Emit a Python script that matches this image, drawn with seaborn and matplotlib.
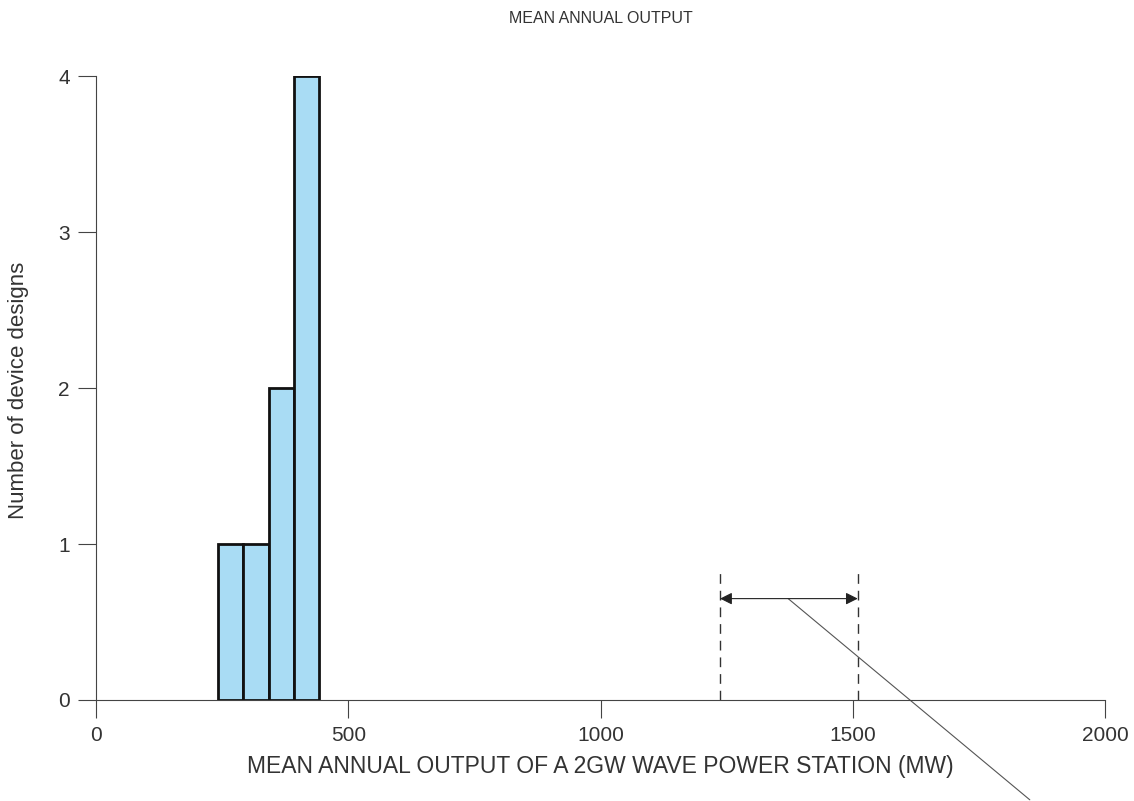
import numpy as np
import pandas as pd
import matplotlib
matplotlib.use("Agg")
import matplotlib.pyplot as plt
import seaborn as sns

# Histogram data
bin_edges = [242, 292, 342, 392, 442]
counts = [1, 1, 2, 4]

# Annotation: estimated range (dashed lines) and pointer line
range_low, range_high = 1237, 1510
range_top = 0.83
arrow_y = 0.65
pointer_start = (1372, 0.65)
pointer_end = (1851, -0.64)

x_ticks = [0, 500, 1000, 1500, 2000]
y_ticks = [0, 1, 2, 3, 4]

centers = [(a + b) / 2 for a, b in zip(bin_edges[:-1], bin_edges[1:])]
df = pd.DataFrame({"output": centers, "count": counts})

sns.set_style("white")
plt.rcParams["font.family"] = ["Liberation Sans", "DejaVu Sans"]

fig = plt.figure(figsize=(11.34, 8.01), dpi=100)
ax = fig.add_axes([0.0847, 0.1261, 0.8897, 0.7789])

sns.histplot(data=df, x="output", weights="count", bins=bin_edges,
             color="#a9dcf4", alpha=1, edgecolor="#111111", linewidth=2, ax=ax)

# dashed range lines
for xv in [range_low, range_high]:
    ax.plot([xv, xv], [0, range_top], color="#333333", lw=1, ls=(0, (7, 5)))
ax.annotate("", xy=(range_low, arrow_y), xytext=(range_high, arrow_y),
            arrowprops=dict(arrowstyle="<|-|>", color="#222222", lw=0.8,
                            mutation_scale=18, shrinkA=0, shrinkB=0))
ax.plot([pointer_start[0], pointer_end[0]], [pointer_start[1], pointer_end[1]],
        color="#555555", lw=0.8, clip_on=False)

ax.set_xlim(0, 2000)
ax.set_ylim(0, 4)
ax.set_xticks(x_ticks)
ax.set_yticks(y_ticks)
ax.tick_params(axis="both", bottom=True, left=True, direction="out", length=13,
               width=0.8, color="#444444", labelsize=15, labelcolor="#333333")
ax.tick_params(axis="x", pad=6)
ax.tick_params(axis="y", pad=6)
for s in ["top", "right"]:
    ax.spines[s].set_visible(False)
for s in ["left", "bottom"]:
    ax.spines[s].set_color("#444444")
    ax.spines[s].set_linewidth(0.8)

ax.set_xlabel("MEAN ANNUAL OUTPUT OF A 2GW WAVE POWER STATION (MW)",
              fontsize=16.5, color="#333333", labelpad=7)
ax.set_ylabel("")
fig.text(0.016, 0.513, "Number of device designs", rotation=90, ha="center",
         va="center", fontsize=16, color="#333333")
fig.text(0.53, 0.977, "MEAN ANNUAL OUTPUT", ha="center", va="center",
         fontsize=11.5, color="#333333")

fig.savefig("out.png", dpi=100)
